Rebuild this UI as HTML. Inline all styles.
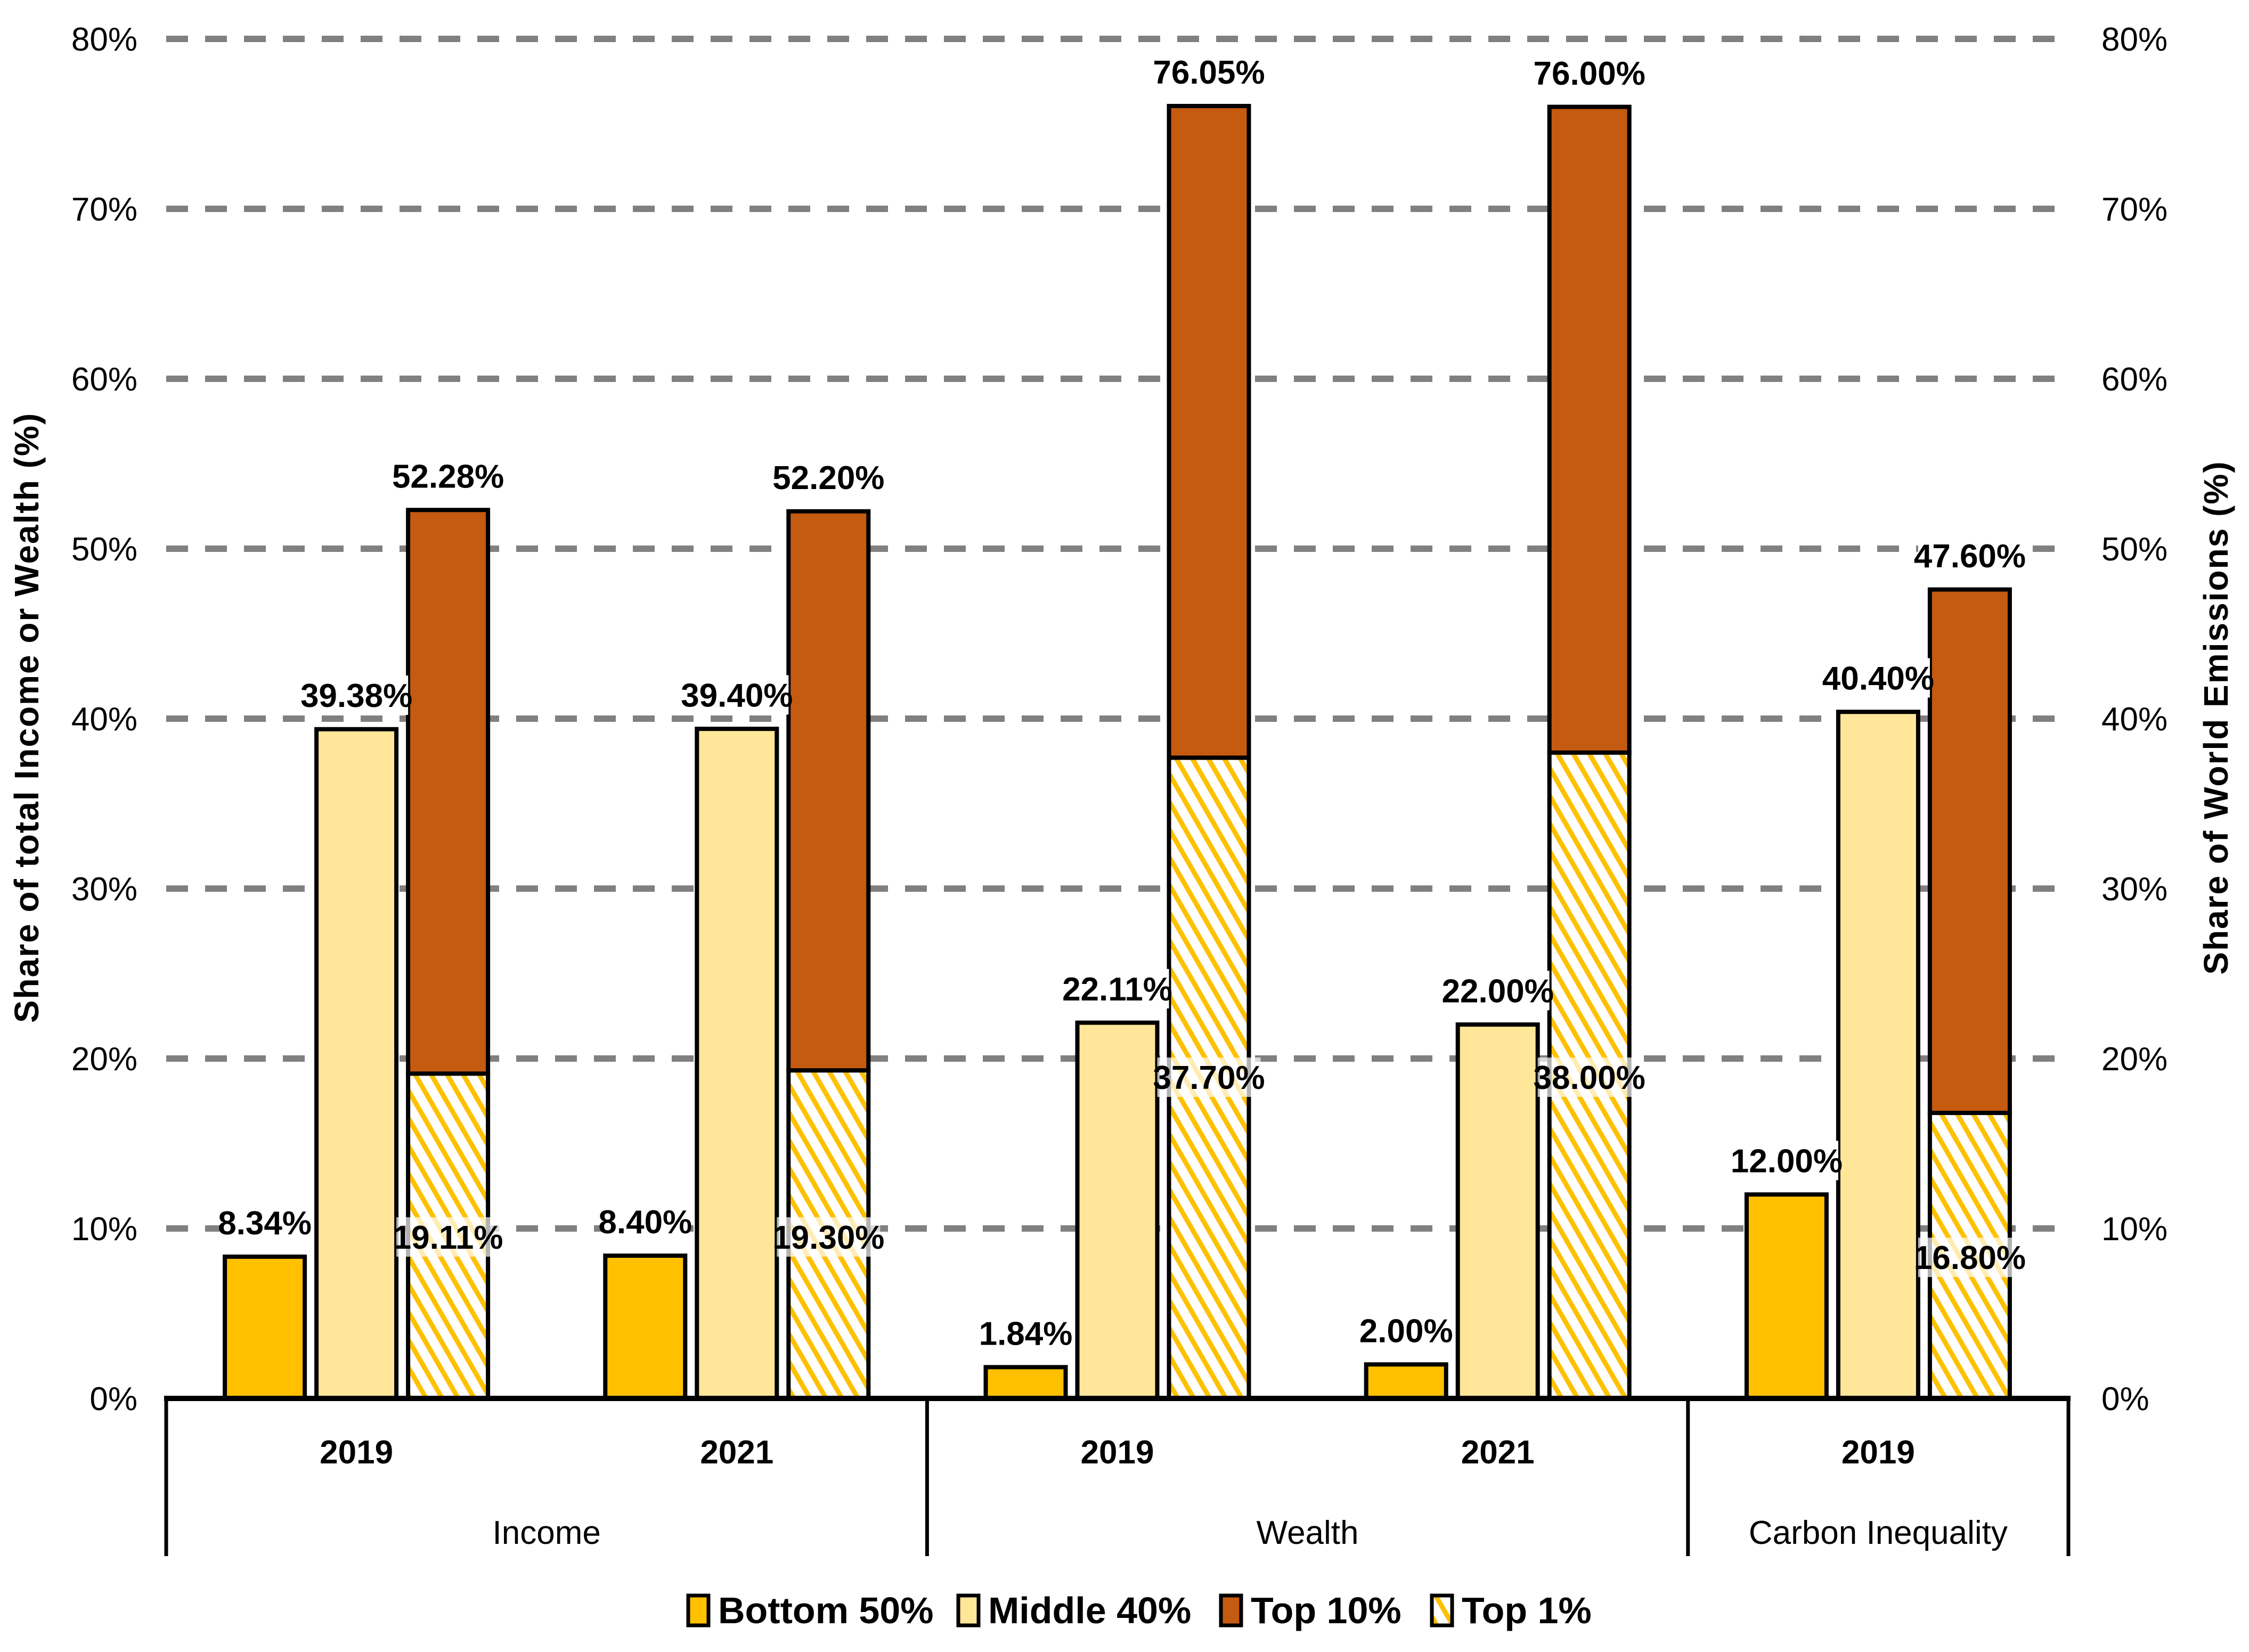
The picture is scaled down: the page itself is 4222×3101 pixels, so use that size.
<!DOCTYPE html>
<html><head><meta charset="utf-8"><style>
html,body{margin:0;padding:0;background:#fff;}
svg{display:block;}
text{font-family:"Liberation Sans Narrow","Liberation Sans",sans-serif;font-weight:bold;fill:#000;}
text.norm{font-weight:normal;}
</style></head><body>
<svg id="chart" xmlns="http://www.w3.org/2000/svg" width="4222" height="3101" viewBox="0 0 4222 3101">
<defs>
<pattern id="hatch" patternUnits="userSpaceOnUse" width="26" height="26" patternTransform="rotate(-30)">
<rect width="26" height="26" fill="#fff"/>
<rect x="0" y="0" width="9" height="26" fill="#FFC000"/>
</pattern>
</defs>
<g id="grid"></g>
<g id="bars"></g>
<g id="labels"></g>
<g id="axes"></g>
<text transform="translate(72,1347) rotate(-90)" text-anchor="middle" font-size="64" style="font-family:'Liberation Sans',sans-serif;letter-spacing:2px">Share of total Income or Wealth (%)</text>
<text transform="translate(4182,1347) rotate(-90)" text-anchor="middle" font-size="64" style="font-family:'Liberation Sans',sans-serif;letter-spacing:2px">Share of World Emissions (%)</text>
<g id="legend"></g>
</svg>
<script>
const years = ["2019","2021","2019","2021","2019"];
const groups = ["Income","Wealth","Carbon Inequality"];
const groupSpan = [2,2,1];
const bottom50 = [8.34, 8.40, 1.84, 2.00, 12.00];
const middle40 = [39.38, 39.40, 22.11, 22.00, 40.40];
const top10 = [52.28, 52.20, 76.05, 76.00, 47.60];
const top1 = [19.11, 19.30, 37.70, 38.00, 16.80];
const top1LabelAt = [9.5, 9.5, 18.9, 18.9, 8.3];
const yTicks = [0,10,20,30,40,50,60,70,80];
const yTickLabels = ["0%","10%","20%","30%","40%","50%","60%","70%","80%"];

const NS="http://www.w3.org/2000/svg";
const X0=312, X1=3883, Y0=2625, Y80=73;
const yS=v=>Y0-(Y0-Y80)*v/80;
const catW=(X1-X0)/years.length;
const xC=i=>X0+catW*(i+0.5);
const BW=150, OFF=172;
function mk(tag,attrs,parent){const e=document.createElementNS(NS,tag);for(const k in attrs)e.setAttribute(k,attrs[k]);parent.appendChild(e);return e;}
const grid=document.getElementById('grid'),bars=document.getElementById('bars'),labels=document.getElementById('labels'),axes=document.getElementById('axes');
yTicks.forEach((t,i)=>{
  if(t>0){const l=mk('line',{x1:X0,x2:X1,y1:yS(t),y2:yS(t),stroke:'#808080','stroke-width':12,'stroke-dasharray':'41 32'},grid);
  
  }
  const a=mk('text',{x:258,y:yS(t)+22,'text-anchor':'end','font-size':62,'class':'norm'},axes);a.textContent=yTickLabels[i];
  
  
  const b=mk('text',{x:3945,y:yS(t)+22,'text-anchor':'start','font-size':62,'class':'norm'},axes);b.textContent=yTickLabels[i];
  
  
});
function bar(x,v0,v1,fill,name){const r=mk('rect',{x:x-BW/2,y:yS(v1),width:BW,height:yS(v0)-yS(v1),fill:fill,stroke:'#000','stroke-width':8},bars);
  
  return r;}
function label(x,v,txt,alpha,name){
  const w=txt.length*31+8,h=74;
  const bg=mk('rect',{x:x-w/2,y:yS(v)-h/2,width:w,height:h,fill:'#fff','fill-opacity':alpha},labels);
  
  
  const t=mk('text',{x:x,y:yS(v)+22,'text-anchor':'middle','font-size':62},labels);t.textContent=txt;
  
  
}
const f=v=>v.toFixed(2)+'%';
years.forEach((y,i)=>{
  const c=xC(i);
  bar(c-OFF,0,bottom50[i],'#FFC000','bar-bottom50-'+i);
  bar(c,0,middle40[i],'#FFE699','bar-middle40-'+i);
  bar(c+OFF,top1[i],top10[i],'#C55A11','bar-top10-'+i);
  bar(c+OFF,0,top1[i],'url(#hatch)','bar-top1-'+i);
  label(c-OFF,bottom50[i]+2.0,f(bottom50[i]),1,'label-bottom50-'+i);
  label(c,middle40[i]+2.0,f(middle40[i]),1,'label-middle40-'+i);
  label(c+OFF,top10[i]+2.0,f(top10[i]),1,'label-top10-'+i);
  label(c+OFF,top1LabelAt[i],f(top1[i]),0.7,'label-top1-'+i);
  const yt=mk('text',{x:c,y:2747,'text-anchor':'middle','font-size':62},axes);yt.textContent=y;
  
  
});
mk('line',{x1:X0-4,x2:X1+4,y1:Y0,y2:Y0,stroke:'#000','stroke-width':10},axes);
let k=0;
const sep=[X0];
groups.forEach((g,gi)=>{
  const s=k,e=k+groupSpan[gi];k=e;
  sep.push(X0+catW*e);
  const gt=mk('text',{x:X0+catW*(s+e)/2,y:2898,'text-anchor':'middle','font-size':62,'class':'norm'},axes);gt.textContent=g;
  
  
});
sep.forEach(x=>{mk('line',{x1:x,x2:x,y1:Y0,y2:2921,stroke:'#000','stroke-width':7},axes);});
const leg=document.getElementById('legend');
const legItems=[["Bottom 50%","#FFC000",1292],["Middle 40%","#FFE699",1799],["Top 10%","#C55A11",2292],["Top 1%","url(#hatch)",2688]];
legItems.forEach(it=>{
  const r=mk('rect',{x:it[2],y:2995,width:38,height:56,fill:it[1],stroke:'#000','stroke-width':7},leg);
  
  
  const t=mk('text',{x:it[2]+56,y:3047,'font-size':70},leg);t.textContent=it[0];
  
  
});
</script>
</body></html>
